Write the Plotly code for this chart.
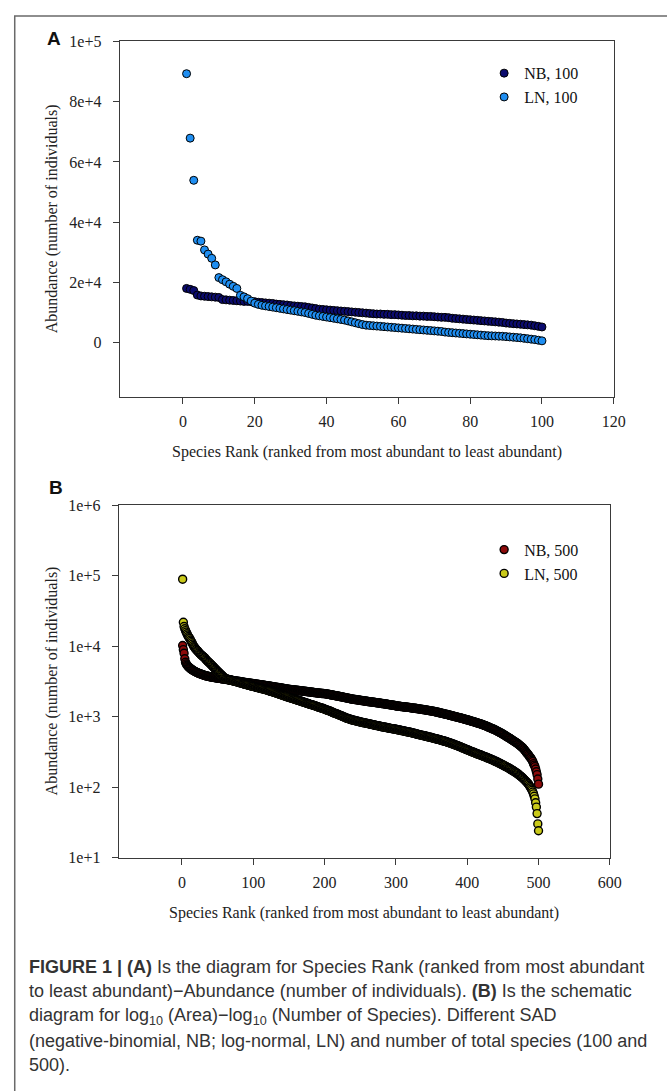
import plotly.graph_objects as go

W, H = 667, 1091

# ---------------- data ----------------
rank_100 = list(range(1, 101))
rank_500 = list(range(1, 501))

nb_100 = [18000, 17700, 17300, 15800, 15500, 15400, 15300, 15200, 15100, 15000,
          14300, 14200, 14100, 14000, 13900, 13800, 13700, 13700, 13600, 13600,
          13400, 13300, 13200, 13100, 13000, 12800, 12700, 12600, 12500, 12300,
          12200, 12100, 12000, 11900, 11700, 11500, 11300, 11100, 11000, 10900,
          10800, 10700, 10600, 10500, 10400, 10300, 10200, 10100, 10000, 9900,
          9800, 9700, 9600, 9500, 9500, 9400, 9400, 9300, 9300, 9200,
          9100, 9000, 9000, 8900, 8900, 8800, 8800, 8700, 8700, 8600,
          8500, 8400, 8400, 8300, 8100, 8000, 7900, 7800, 7700, 7600,
          7500, 7400, 7300, 7200, 7100, 7000, 6900, 6800, 6700, 6500,
          6400, 6300, 6200, 6100, 6000, 5900, 5800, 5600, 5400, 5200]

ln_100 = [89300, 67900, 53900, 34000, 33700, 30800, 29400, 28000, 25800, 21600,
          20900, 20200, 19400, 18700, 18000, 15700, 15200, 14600, 13800, 13100,
          12700, 12400, 12200, 12000, 11800, 11600, 11400, 11200, 11000, 10800,
          10600, 10400, 10200, 10000, 9700, 9400, 9100, 8900, 8700, 8500,
          8300, 8100, 7900, 7700, 7500, 7200, 6900, 6600, 6300, 6000,
          5800, 5700, 5600, 5500, 5400, 5300, 5200, 5100, 5000, 4900,
          4800, 4700, 4600, 4500, 4400, 4300, 4200, 4100, 4000, 3900,
          3800, 3700, 3500, 3400, 3300, 3200, 3100, 3000, 2900, 2800,
          2700, 2600, 2500, 2400, 2300, 2250, 2200, 2150, 2100, 2000,
          1900, 1800, 1700, 1600, 1450, 1300, 1150, 1000, 800, 600]

nb_500 = [10200, 8900, 7900, 6600, 5900, 5600, 5400, 5250, 5100, 5000,
          4900, 4800, 4720, 4640, 4570, 4500, 4440, 4380, 4330, 4280,
          4230, 4180, 4140, 4100, 4060, 4020, 3980, 3950, 3920, 3890,
          3860, 3830, 3800, 3780, 3760, 3740, 3720, 3700, 3680, 3660,
          3640, 3620, 3610, 3600, 3580, 3570, 3560, 3540, 3530, 3520,
          3500, 3490, 3480, 3470, 3450, 3440, 3430, 3420, 3400, 3390,
          3380, 3370, 3350, 3340, 3330, 3320, 3300, 3290, 3280, 3270,
          3260, 3240, 3230, 3220, 3210, 3200, 3180, 3170, 3160, 3150,
          3140, 3120, 3110, 3100, 3090, 3080, 3060, 3050, 3040, 3030,
          3020, 3010, 3000, 2990, 2980, 2970, 2960, 2950, 2940, 2930,
          2920, 2910, 2900, 2890, 2880, 2870, 2860, 2850, 2840, 2830,
          2820, 2810, 2800, 2790, 2780, 2770, 2760, 2750, 2740, 2730,
          2720, 2710, 2700, 2690, 2680, 2670, 2660, 2650, 2640, 2630,
          2620, 2610, 2600, 2590, 2580, 2570, 2560, 2550, 2540, 2530,
          2520, 2510, 2500, 2490, 2480, 2470, 2460, 2450, 2440, 2430,
          2425, 2420, 2410, 2405, 2400, 2390, 2385, 2380, 2370, 2365,
          2360, 2350, 2345, 2340, 2330, 2325, 2320, 2310, 2305, 2300,
          2290, 2285, 2280, 2270, 2265, 2260, 2250, 2245, 2240, 2230,
          2225, 2220, 2210, 2205, 2200, 2190, 2185, 2180, 2170, 2165,
          2160, 2150, 2145, 2140, 2135, 2130, 2125, 2125, 2120, 2120,
          2110, 2100, 2090, 2080, 2075, 2065, 2055, 2045, 2035, 2030,
          2020, 2010, 2000, 1990, 1985, 1975, 1965, 1955, 1950, 1940,
          1930, 1920, 1910, 1905, 1895, 1885, 1875, 1865, 1860, 1850,
          1840, 1830, 1820, 1815, 1805, 1795, 1785, 1775, 1770, 1760,
          1755, 1750, 1745, 1740, 1730, 1725, 1720, 1715, 1710, 1700,
          1695, 1690, 1685, 1680, 1670, 1665, 1660, 1655, 1650, 1640,
          1635, 1630, 1625, 1620, 1615, 1610, 1605, 1600, 1595, 1590,
          1585, 1580, 1575, 1570, 1565, 1560, 1555, 1550, 1540, 1535,
          1530, 1525, 1520, 1515, 1510, 1505, 1500, 1495, 1490, 1480,
          1475, 1470, 1465, 1460, 1455, 1450, 1445, 1440, 1430, 1420,
          1415, 1410, 1405, 1400, 1400, 1395, 1390, 1385, 1385, 1380,
          1375, 1370, 1365, 1365, 1360, 1355, 1350, 1350, 1345, 1340,
          1335, 1330, 1325, 1320, 1315, 1310, 1310, 1305, 1300, 1295,
          1290, 1285, 1280, 1275, 1270, 1265, 1260, 1260, 1255, 1250,
          1245, 1240, 1235, 1230, 1225, 1220, 1215, 1210, 1205, 1200,
          1195, 1190, 1185, 1180, 1170, 1165, 1160, 1155, 1150, 1140,
          1135, 1130, 1125, 1115, 1110, 1105, 1100, 1090, 1085, 1080,
          1075, 1070, 1060, 1055, 1050, 1045, 1035, 1030, 1025, 1020,
          1015, 1005, 1000, 995, 990, 980, 975, 970, 965, 960,
          955, 945, 940, 935, 930, 920, 915, 910, 905, 900,
          895, 885, 880, 875, 870, 860, 855, 850, 845, 840,
          835, 825, 820, 815, 810, 800, 795, 790, 785, 780,
          770, 765, 760, 750, 745, 740, 730, 725, 715, 710,
          700, 695, 690, 680, 675, 665, 660, 655, 645, 640,
          630, 625, 615, 610, 600, 595, 585, 580, 570, 565,
          555, 550, 540, 530, 525, 515, 510, 500, 495, 490,
          480, 475, 465, 460, 450, 445, 440, 430, 425, 420,
          410, 405, 395, 390, 380, 375, 365, 360, 350, 340,
          330, 320, 310, 300, 295, 285, 275, 265, 260, 250,
          240, 230, 215, 205, 195, 180, 165, 150, 130, 110]

ln_500 = [89000, 21800, 19000, 17600, 16600, 15800, 15000, 14300, 13700, 13200,
          12800, 12200, 11700, 11200, 10700, 10200, 9800, 9500, 9200, 8950,
          8700, 8550, 8300, 8050, 7850, 7650, 7500, 7350, 7200, 7100,
          6950, 6800, 6600, 6400, 6250, 6100, 5950, 5850, 5720, 5600,
          5460, 5330, 5200, 5080, 4960, 4840, 4720, 4610, 4500, 4400,
          4300, 4200, 4100, 4000, 3920, 3840, 3760, 3680, 3600, 3500,
          3470, 3440, 3410, 3380, 3350, 3330, 3310, 3290, 3270, 3250,
          3230, 3210, 3190, 3170, 3150, 3130, 3110, 3090, 3070, 3050,
          3030, 3010, 2990, 2970, 2950, 2930, 2910, 2890, 2870, 2850,
          2830, 2810, 2800, 2780, 2760, 2740, 2730, 2710, 2700, 2680,
          2660, 2650, 2630, 2620, 2600, 2580, 2570, 2550, 2540, 2520,
          2500, 2490, 2470, 2460, 2440, 2430, 2410, 2400, 2380, 2370,
          2350, 2330, 2310, 2300, 2280, 2260, 2250, 2230, 2210, 2200,
          2180, 2160, 2140, 2130, 2110, 2090, 2080, 2060, 2040, 2030,
          2010, 1990, 1980, 1960, 1950, 1930, 1920, 1900, 1890, 1880,
          1860, 1850, 1830, 1820, 1810, 1790, 1780, 1770, 1750, 1740,
          1730, 1710, 1700, 1690, 1680, 1660, 1650, 1640, 1620, 1610,
          1600, 1590, 1570, 1560, 1550, 1540, 1530, 1510, 1500, 1490,
          1480, 1470, 1460, 1450, 1440, 1430, 1420, 1400, 1390, 1380,
          1370, 1360, 1350, 1340, 1330, 1320, 1310, 1300, 1290, 1270,
          1260, 1250, 1240, 1230, 1220, 1210, 1200, 1190, 1180, 1160,
          1150, 1140, 1130, 1120, 1110, 1100, 1090, 1080, 1070, 1060,
          1050, 1040, 1030, 1020, 1010, 1000, 990, 980, 970, 960,
          950, 945, 935, 930, 920, 915, 910, 900, 895, 890,
          885, 880, 875, 870, 865, 860, 855, 850, 845, 840,
          835, 830, 825, 820, 820, 815, 810, 805, 800, 800,
          795, 790, 785, 780, 780, 775, 770, 765, 760, 760,
          755, 750, 745, 745, 740, 735, 730, 730, 725, 720,
          715, 715, 710, 705, 705, 700, 700, 695, 690, 690,
          685, 680, 680, 675, 675, 670, 670, 665, 660, 660,
          655, 650, 650, 645, 645, 640, 635, 635, 630, 630,
          625, 620, 620, 615, 610, 610, 605, 605, 600, 600,
          595, 590, 585, 585, 580, 575, 575, 570, 565, 565,
          560, 555, 555, 550, 545, 545, 540, 540, 535, 535,
          530, 525, 525, 520, 515, 515, 510, 510, 505, 505,
          500, 495, 495, 490, 485, 485, 480, 480, 475, 475,
          470, 465, 465, 460, 455, 455, 450, 450, 445, 445,
          440, 435, 430, 430, 425, 420, 420, 415, 410, 410,
          405, 400, 395, 395, 390, 385, 385, 380, 375, 375,
          370, 365, 360, 360, 355, 350, 350, 345, 340, 340,
          335, 330, 330, 325, 320, 320, 315, 315, 310, 310,
          305, 300, 300, 295, 295, 290, 290, 285, 285, 280,
          280, 275, 275, 270, 270, 265, 265, 260, 260, 255,
          255, 250, 250, 245, 245, 240, 240, 235, 235, 230,
          230, 225, 225, 220, 220, 215, 215, 210, 210, 205,
          205, 200, 200, 195, 195, 190, 190, 185, 185, 180,
          180, 175, 175, 170, 170, 165, 165, 160, 160, 155,
          155, 150, 148, 145, 142, 140, 137, 134, 131, 128,
          125, 122, 119, 116, 113, 110, 106, 102, 98, 94,
          90, 85, 80, 74, 68, 60, 52, 42, 30, 24]

a_xticks = [0, 20, 40, 60, 80, 100, 120]
a_yticks = [0, 20000, 40000, 60000, 80000, 100000]
a_yticktext = ["0", "2e+4", "4e+4", "6e+4", "8e+4", "1e+5"]
b_xticks = [0, 100, 200, 300, 400, 500, 600]
b_yticks = [10, 100, 1000, 10000, 100000, 1000000]
b_yticktext = ["1e+1", "1e+2", "1e+3", "1e+4", "1e+5", "1e+6"]

x_title = "Species Rank (ranked from most abundant to least abundant)"
y_title = "Abundance (number of individuals)"
caption_lines = [
    "<b>FIGURE 1 | (A)</b> Is the diagram for Species Rank (ranked from most abundant",
    "to least abundant)\u2212Abundance (number of individuals). <b>(B)</b> Is the schematic",
    "diagram for log<sub>10</sub> (Area)\u2212log<sub>10</sub> (Number of Species). Different SAD",
    "(negative-binomial, NB; log-normal, LN) and number of total species (100 and",
    "500).",
]

# ---------------- helpers ----------------
def px(x):
    return x / W


def py(y):
    return 1 - y / H


SERIF = "Liberation Serif, Times New Roman, serif"
SANS = "Liberation Sans, Arial, sans-serif"
AX = "#3a3a3a"

fig = go.Figure()


def mk(color, lw):
    return dict(size=8, color=color, line=dict(color="#000000", width=lw))


fig.add_trace(go.Scatter(x=rank_100, y=nb_100, mode="markers", name="NB, 100",
                         marker=mk("#0b0b6e", 1), xaxis="x", yaxis="y", legend="legend"))
fig.add_trace(go.Scatter(x=rank_100, y=ln_100, mode="markers", name="LN, 100",
                         marker=mk("#1f8ef1", 1), xaxis="x", yaxis="y", legend="legend"))
fig.add_trace(go.Scatter(x=rank_500, y=nb_500, mode="markers", name="NB, 500",
                         marker=mk("#8c0a0a", 1.4), xaxis="x2", yaxis="y2", legend="legend2"))
fig.add_trace(go.Scatter(x=rank_500, y=ln_500, mode="markers", name="LN, 500",
                         marker=mk("#c9c91a", 1.4), xaxis="x2", yaxis="y2", legend="legend2"))

axis_common = dict(showgrid=False, zeroline=False, showline=True, linecolor=AX,
                   linewidth=1.3, mirror=True, ticks="outside", ticklen=6,
                   tickwidth=1.2, tickcolor=AX,
                   tickfont=dict(family=SERIF, size=16, color="#222"))

fig.update_layout(
    width=W, height=H,
    margin=dict(l=0, r=0, t=0, b=0),
    paper_bgcolor="white", plot_bgcolor="white",
    xaxis=dict(domain=[px(122), px(625)], range=[-17.6, 120], tickvals=a_xticks,
               anchor="y", ticklabelstandoff=4, **axis_common),
    yaxis=dict(domain=[py(395), py(34)], range=[-18000, 100000], tickvals=a_yticks,
               ticktext=a_yticktext, anchor="x", ticklabelstandoff=8, **axis_common),
    xaxis2=dict(domain=[px(121), px(621)], range=[-88.5, 600], tickvals=b_xticks,
                anchor="y2", ticklabelstandoff=4, **axis_common),
    yaxis2=dict(domain=[py(863), py(505)], type="log", range=[1, 6], tickvals=b_yticks,
                ticktext=b_yticktext, anchor="x2", ticklabelstandoff=8, **axis_common),
    legend=dict(x=px(493), y=py(49), xanchor="left", yanchor="top",
                bgcolor="rgba(0,0,0,0)", font=dict(family=SERIF, size=16, color="#111"),
                tracegroupgap=0),
    legend2=dict(x=px(493), y=py(533), xanchor="left", yanchor="top",
                 bgcolor="rgba(0,0,0,0)", font=dict(family=SERIF, size=16, color="#111"),
                 tracegroupgap=0),
    showlegend=True,
)

annotations = []
# panel letters
annotations.append(dict(text="<b>A</b>", x=px(55), y=py(31), xref="paper", yref="paper",
                        showarrow=False, font=dict(family=SANS, size=19, color="#111"),
                        xanchor="center", yanchor="middle"))
annotations.append(dict(text="<b>B</b>", x=px(57), y=py(487), xref="paper", yref="paper",
                        showarrow=False, font=dict(family=SANS, size=19, color="#111"),
                        xanchor="center", yanchor="middle"))
# axis titles
for xc, yc in [(373.5, 451), (371, 919)]:
    annotations.append(dict(text=x_title, x=px(xc), y=py(yc), xref="paper", yref="paper",
                            showarrow=False, font=dict(family=SERIF, size=16, color="#222"),
                            xanchor="center", yanchor="middle"))
for yc in [214.5, 684]:
    annotations.append(dict(text=y_title, x=px(53), y=py(yc), xref="paper", yref="paper",
                            showarrow=False, textangle=-90,
                            font=dict(family=SERIF, size=16, color="#222"),
                            xanchor="center", yanchor="middle"))
# caption
for i, line in enumerate(caption_lines):
    annotations.append(dict(text=line, x=px(28), y=py(974 + 25 * i), xref="paper",
                            yref="paper", showarrow=False, align="left",
                            font=dict(family=SANS, size=18, color="#333"),
                            xanchor="left", yanchor="middle"))
fig.update_layout(annotations=annotations)

# outer frame of the figure
fig.add_shape(type="rect", xref="paper", yref="paper", x0=px(15), x1=1.05,
              y0=-0.05, y1=py(8), line=dict(color="#6a6a6a", width=1.5),
              fillcolor="rgba(0,0,0,0)", layer="below")

fig.write_html("out.html")
